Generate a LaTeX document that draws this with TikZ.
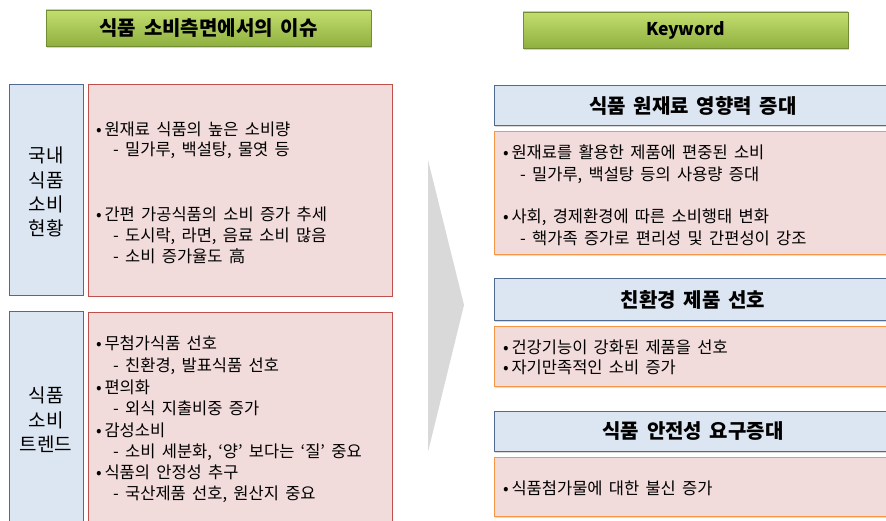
\documentclass[tikz,border=0pt]{standalone}
\usepackage{fontspec}
\setmainfont[WordSpace=1.7]{Noto Sans CJK KR}
\usetikzlibrary{shadows}
\definecolor{bluefill}{HTML}{DCE6F2}
\definecolor{blueline}{HTML}{4F6B8F}
\definecolor{pinkfill}{HTML}{F2DCDB}
\definecolor{redline}{HTML}{C0504D}
\definecolor{orangeline}{HTML}{F79646}
\definecolor{greentop}{HTML}{C3DE6E}
\definecolor{greenbot}{HTML}{8FB040}
\definecolor{arrowgray}{HTML}{D9D9D9}
\tikzset{
  titlebox/.style={draw=greenbot!80!black, line width=0.6pt, top color=greentop, bottom color=greenbot,
    drop shadow={shadow xshift=1pt, shadow yshift=-2pt, opacity=0.35}},
  sidebox/.style={draw=blueline, line width=1pt, fill=bluefill},
  leftpink/.style={draw=redline, line width=0.8pt, fill=pinkfill},
  rightpink/.style={draw=orangeline, line width=1pt, fill=pinkfill,
    drop shadow={shadow xshift=1pt, shadow yshift=-1.5pt, opacity=0.25}},
  headbox/.style={draw=blueline, line width=1pt, fill=bluefill,
    drop shadow={shadow xshift=1pt, shadow yshift=-1.5pt, opacity=0.3}},
  txt/.style={anchor=base west, inner sep=0pt, font=\fontsize{16.5}{19}\selectfont},
  sidetxt/.style={anchor=center, inner sep=0pt, font=\fontsize{19}{22}\selectfont},
  headtxt/.style={anchor=center, inner sep=0pt, font=\fontsize{20}{24}\selectfont\bfseries},
}
\begin{document}
\begin{tikzpicture}[x=1pt,y=-1pt]
\useasboundingbox (0,0) rectangle (886,521);
\begin{scope}
\clip (0,0) rectangle (886,521);
% title boxes
\draw[titlebox] (46,10) rectangle (371,46);
\node[headtxt] (t1) at (208.5,28) {식품 소비측면에서의 이슈};
\draw[titlebox] (523,12) rectangle (848,48);
\node[headtxt, font=\fontsize{17.5}{20}\selectfont\bfseries] (t2) at (685.5,30) {Keyword};

% left boxes
\draw[sidebox] (9,85) rectangle (83,296);
\draw[leftpink] (88,84) rectangle (392,296);
\draw[sidebox] (9,312) rectangle (83,530);
\draw[leftpink] (88,312) rectangle (392,530);

\node[sidetxt] (s1) at (46,155) {국내};
\node[sidetxt] (s2) at (46,180) {식품};
\node[sidetxt] (s3) at (46,204) {소비};
\node[sidetxt] (s4) at (46,228) {현황};

\node[sidetxt] (s5) at (46,395) {식품};
\node[sidetxt] (s6) at (46,420) {소비};
\node[sidetxt] (s7) at (46,444) {트렌드};

\node[txt] (a1) at (96,136) {•\,원재료 식품의 높은 소비량};
\node[txt] (a2) at (113,156) {- 밀가루, 백설탕, 물엿 등};
\node[txt] (a3) at (96,221) {•\,간편 가공식품의 소비 증가 추세};
\node[txt] (a4) at (113,242) {- 도시락, 라면, 음료 소비 많음};
\node[txt] (a5) at (113,263) {- 소비 증가율도 高};

\node[txt] (b1) at (96,349) {•\,무첨가식품 선호};
\node[txt] (b2) at (113,371) {- 친환경, 발표식품 선호};
\node[txt] (b3) at (96,393) {•\,편의화};
\node[txt] (b4) at (113,414) {- 외식 지출비중 증가};
\node[txt] (b5) at (96,436) {•\,감성소비};
\node[txt] (b6) at (113,457) {- 소비 세분화, ‘양’ 보다는 ‘질’ 중요};
\node[txt] (b7) at (96,478) {•\,식품의 안정성 추구};
\node[txt] (b8) at (113,499) {- 국산제품 선호, 원산지 중요};

% arrow
\fill[arrowgray] (428,160) -- (464,305) -- (428,452) -- cycle;

% right side
\draw[headbox] (494,86) rectangle (893,126);
\node[headtxt] (h1) at (693,106) {식품 원재료 영향력 증대};
\draw[rightpink] (494,132) rectangle (893,255);
\node[txt] (c1) at (503,159) {•\,원재료를 활용한 제품에 편중된 소비};
\node[txt] (c2) at (520,181) {- 밀가루, 백설탕 등의 사용량 증대};
\node[txt] (c3) at (503,223) {•\,사회, 경제환경에 따른 소비행태 변화};
\node[txt] (c4) at (520,245) {- 핵가족 증가로 편리성 및 간편성이 강조};

\draw[headbox] (494,279) rectangle (893,320);
\node[headtxt] (h2) at (693,300) {친환경 제품 선호};
\draw[rightpink] (494,326) rectangle (893,386);
\node[txt] (d1) at (503,353) {•\,건강기능이 강화된 제품을 선호};
\node[txt] (d2) at (503,373) {•\,자기만족적인 소비 증가};

\draw[headbox] (494,411) rectangle (893,451);
\node[headtxt] (h3) at (693,431) {식품 안전성 요구증대};
\draw[rightpink] (494,457) rectangle (893,516);
\node[txt] (e1) at (503,494) {•\,식품첨가물에 대한 불신 증가};
\end{scope}
\end{tikzpicture}
\end{document}
